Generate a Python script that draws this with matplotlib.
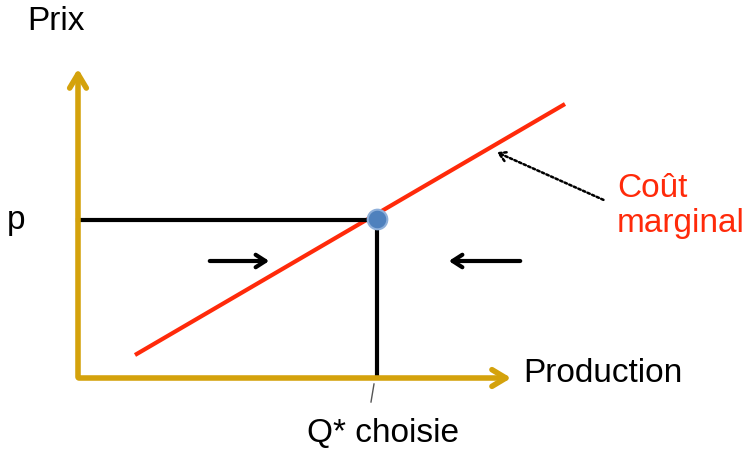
import matplotlib.pyplot as plt

plt.rcParams['font.family'] = ['Liberation Sans', 'DejaVu Sans']

# schematic coordinates (pixel-like units, y grows downward)
origin = (78, 378)
y_axis_top = 66
x_axis_end = 514
supply_x = [135, 565]
supply_y = [355, 104]
q_star = 377
p_level = 220
arrow_right = [(207, 261), (272, 261)]
arrow_left = [(523, 261), (446, 261)]
dotted_from = (606, 201)
dotted_to = (494, 151)

gold = '#D4A20C'
red = '#FF2A0A'

fig = plt.figure(figsize=(7.51, 4.5), dpi=100)
ax = fig.add_axes([0, 0, 1, 1])
ax.set_xlim(0, 751)
ax.set_ylim(450, 0)
ax.axis('off')

# axes with arrows
ax.annotate('', xy=(origin[0], y_axis_top), xytext=(origin[0], origin[1] + 2),
            arrowprops=dict(arrowstyle='->,head_length=1.0,head_width=0.6', color=gold, lw=4))
ax.annotate('', xy=(x_axis_end, origin[1]), xytext=(origin[0] - 2, origin[1]),
            arrowprops=dict(arrowstyle='->,head_length=1.0,head_width=0.6', color=gold, lw=4))

# marginal cost line
ax.plot(supply_x, supply_y, color=red, lw=3, solid_capstyle='butt')

# price / quantity lines
ax.plot([origin[0], q_star], [p_level, p_level], color='black', lw=3)
ax.plot([q_star, q_star], [p_level, origin[1] - 2], color='black', lw=3)

# equilibrium point
ax.scatter([q_star], [p_level - 1], s=200, color='#4F81BD', edgecolor='#8FB0DA', lw=1.5, zorder=5)

# adjustment arrows
for a in (arrow_right, arrow_left):
    ax.annotate('', xy=a[1], xytext=a[0],
                arrowprops=dict(arrowstyle='->,head_length=0.7,head_width=0.45', color='black', lw=3))

# dotted pointer to the curve
ax.annotate('', xy=dotted_to, xytext=dotted_from,
            arrowprops=dict(arrowstyle='->,head_length=0.6,head_width=0.35', color='black',
                            lw=1.8, linestyle=(0, (1, 1))))

# small tick below Q*
ax.plot([374, 371], [384, 402], color='#555555', lw=1)

# labels
ax.text(27, 22, 'Prix', fontsize=24, ha='left', va='center')
ax.text(7, 220, 'p', fontsize=24, ha='left', va='center')
ax.text(523, 373, 'Production', fontsize=24, ha='left', va='center')
ax.text(383, 433, 'Q* choisie', fontsize=24, ha='center', va='center')
ax.text(617, 206, 'Coût\nmarginal', fontsize=24, ha='left', va='center', color=red, linespacing=1.15)

fig.savefig('out.png', dpi=100)
